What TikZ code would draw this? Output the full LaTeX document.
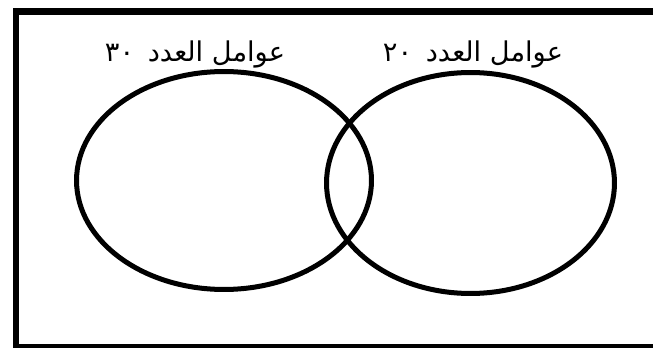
\documentclass[tikz,border=0pt]{standalone}
\usepackage{fontspec}
\newfontfamily\arabicfont[Script=Arabic]{DejaVu Sans}
\TeXXeTstate=1
\usetikzlibrary{shapes.geometric}
\tikzset{
  vset/.style={draw=black,ellipse,line width=2.85pt,inner sep=0pt},
  setlabel/.style={font=\arabicfont\fontsize{15.5}{17}\selectfont,inner sep=0pt},
  outerbox/.style={draw=black,line width=3.6pt}
}

\begin{document}
\begin{tikzpicture}[x=0.02cm,y=-0.02cm]
  \useasboundingbox (0,0) rectangle (653,348);
  \clip (0,0) rectangle (653,348);
  \node[outerbox,minimum width=13.8cm,minimum height=6.72cm,anchor=north west] (box) at (12.5,8.5) {};
  % the two sets
  \node[vset,minimum width=5.9cm,minimum height=4.36cm] (thirty) at (224,180.5) {};
  \node[vset,minimum width=5.76cm,minimum height=4.42cm] (twenty) at (470.5,183) {};
  \node[setlabel] (thirtylbl) at (195,54) {\beginR عوامل العدد\hspace{0.5em}\beginL٣٠\endL\endR};
  \node[setlabel] (twentylbl) at (473,54) {\beginR عوامل العدد\hspace{0.5em}\beginL٢٠\endL\endR};
\end{tikzpicture}
\end{document}
